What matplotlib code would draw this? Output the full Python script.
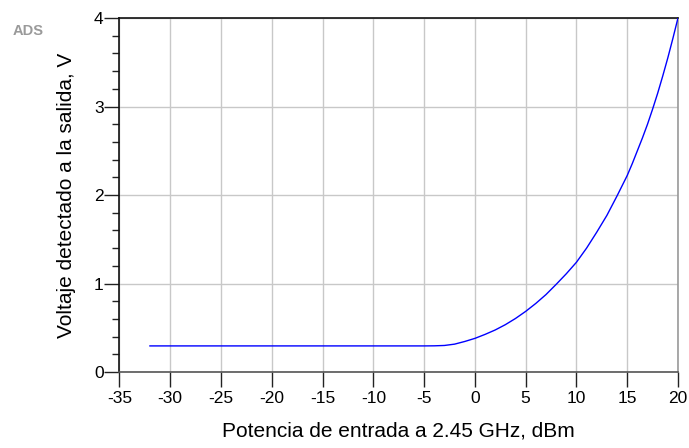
import matplotlib.pyplot as plt
from matplotlib.ticker import MultipleLocator

plt.rcParams['font.family'] = ['Liberation Sans', 'DejaVu Sans']
plt.rcParams['axes.unicode_minus'] = False

# Potencia de entrada (dBm) y voltaje detectado (V)
p_in = [-32, -30, -25, -20, -15, -10, -5, -4, -3, -2, -1, 0, 1, 2, 3, 4, 5,
        6, 7, 8, 9, 10, 11, 12, 13, 14, 15, 15.5, 16, 16.5, 17, 17.5, 18,
        18.5, 19, 19.5, 20]
v_out = [0.295, 0.295, 0.295, 0.295, 0.295, 0.295, 0.295, 0.296, 0.30, 0.315,
         0.345, 0.38, 0.425, 0.475, 0.535, 0.605, 0.685, 0.775, 0.875, 0.99,
         1.11, 1.24, 1.40, 1.58, 1.77, 1.99, 2.22, 2.355, 2.50, 2.645, 2.80,
         2.97, 3.15, 3.345, 3.55, 3.77, 4.0]

fig = plt.figure(figsize=(6.89, 4.48), dpi=100)
ax = fig.add_axes([0.1734, 0.1696, 0.8106, 0.7902])

ax.plot(p_in, v_out, color='#0000ff', lw=1.0, zorder=3)

ax.set_xlim(-35, 20)
ax.set_ylim(0, 4)
ax.xaxis.set_major_locator(MultipleLocator(5))
ax.yaxis.set_major_locator(MultipleLocator(1))
ax.yaxis.set_minor_locator(MultipleLocator(0.2))

ax.grid(True, which='major', color='#c8c8c8', lw=1.0)
ax.set_axisbelow(True)

ax.tick_params(axis='both', which='major', direction='out', length=10.5,
               width=1.0, labelsize=12.5, color='#222222')
ax.tick_params(axis='x', pad=3)
ax.tick_params(axis='y', pad=1)
ax.tick_params(axis='y', which='minor', direction='out', length=5,
               width=1.0, color='#222222')

ax.spines['left'].set_color('#111111')
ax.spines['top'].set_color('#111111')
ax.spines['bottom'].set_color('#555555')
ax.spines['right'].set_color('#999999')
for s in ax.spines.values():
    s.set_linewidth(1.2)

ax.set_xlabel('Potencia de entrada a 2.45 GHz, dBm', fontsize=15, labelpad=11)
ax.set_ylabel('Voltaje detectado a la salida, V', fontsize=15, labelpad=13)

fig.text(0.018, 0.93, 'ADS', fontsize=10.5, color='#9a9a9a', va='center',
         fontweight='bold')

fig.savefig('out.png', dpi=100)
